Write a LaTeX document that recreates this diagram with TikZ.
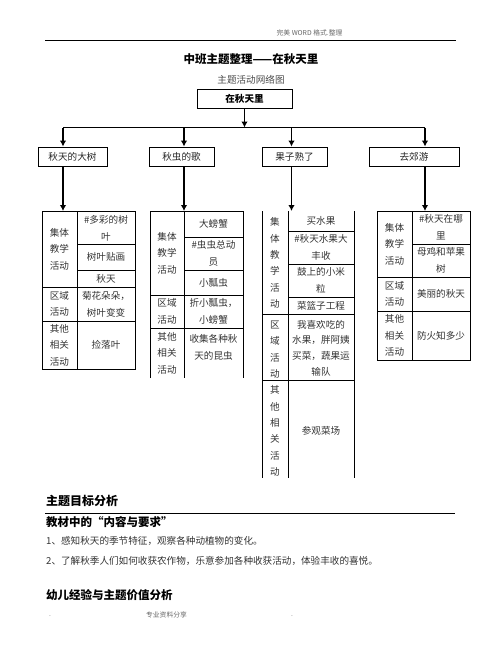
\documentclass[tikz,border=0pt]{standalone}
\usepackage{fontspec}
\setmainfont{Noto Sans CJK SC}
\usetikzlibrary{arrows.meta}

\begin{document}
\begin{tikzpicture}[x=1pt,y=-1pt,
  box/.style={draw,line width=0.9pt,inner sep=0pt,text=black!85,font=\fontsize{9.6}{12}\selectfont},
  arr/.style={line width=1.7pt,-{Latex[length=6pt,width=6.5pt]}},
  grid/.style={line width=0.9pt},
  cell/.style={align=center,inner sep=0pt,text=black!80,font=\fontsize{9.6}{17}\selectfont},
  tall/.style={cell,font=\fontsize{9.6}{16.4}\selectfont},
  head/.style={anchor=west,inner sep=0pt,font=\bfseries\fontsize{12}{14}\selectfont},
  para/.style={anchor=west,inner sep=0pt,text=black!80,font=\fontsize{9.6}{12}\selectfont},
  tiny/.style={inner sep=0pt,text=black!60,font=\fontsize{6.8}{8}\selectfont}]
\useasboundingbox (0,0) rectangle (502,649);

% page head
\node[tiny] (hdr) at (309.5,33) {完美 WORD 格式.整理};
\draw[line width=0.8pt] (45,40.5) -- (456,40.5);
\node[inner sep=0pt,font=\bfseries\fontsize{11.5}{14}\selectfont] (title) at (251,59) {中班主题整理——在秋天里};
\node[inner sep=0pt,text=black!70,font=\fontsize{9.6}{12}\selectfont] (sub) at (251,80) {主题活动网络图};

% network
\node[box,minimum width=95,minimum height=19,text=black] (root) at (244.5,98.5) {\bfseries 在秋天里};
\node[box,minimum width=69,minimum height=19] (b1) at (72.5,156.5) {秋天的大树};
\node[box,minimum width=65,minimum height=19] (b2) at (181.5,156.5) {秋虫的歌};
\node[box,minimum width=65,minimum height=19] (b3) at (294.5,156.5) {果子熟了};
\node[box,minimum width=90,minimum height=19] (b4) at (414,156.5) {去郊游};
\coordinate (j1) at (63,127.5);
\coordinate (j2) at (184,127.5);
\coordinate (j3) at (291.5,127.5);
\coordinate (j4) at (425,127.5);
\coordinate (t1) at (63,211);
\coordinate (t2) at (184,211);
\coordinate (t3) at (291.5,211);
\coordinate (t4) at (425,211);
\draw[line width=1.7pt] (j1) -- (j4);
\draw[arr] (root.south) -- (root.south |- j1);
\foreach \i in {1,...,4} {
  \draw[arr] (j\i) -- (j\i |- b\i.north);
  \draw[arr] (j\i |- b\i.south) -- (t\i);
}

% table 1
\draw[grid] (42,211) rectangle (135,369);
\draw[grid] (77,211) -- (77,369) (42,287) -- (135,287) (42,321) -- (135,321);
\draw[grid] (77,244) -- (135,244) (77,270) -- (135,270);
\node[tall] (a1) at (59.5,249) {集体\\教学\\活动};
\node[tall] (a2) at (59.5,304) {区域\\活动};
\node[tall] (a3) at (59.5,345) {其他\\相关\\活动};
\node[cell] (a4) at (106,228) {\#多彩的树\\叶};
\node[cell] (a5) at (106,257) {树叶贴画};
\node[cell] (a6) at (106,278.5) {秋天};
\node[cell] (a7) at (106,304) {菊花朵朵，\\树叶变变};
\node[cell] (a8) at (106,345) {捡落叶};

% table 2
\draw[grid] (150,378) -- (150,211) -- (243,211) -- (243,378);
\draw[grid] (184,211) -- (184,378) (150,295) -- (243,295) (150,328) -- (243,328);
\draw[grid] (184,237) -- (243,237) (184,270) -- (243,270);
\node[tall] (c1) at (167,253) {集体\\教学\\活动};
\node[tall] (c2) at (167,311.5) {区域\\活动};
\node[tall] (c3) at (167,353) {其他\\相关\\活动};
\node[cell] (c4) at (213.5,224) {大螃蟹};
\node[cell] (c5) at (213.5,253.5) {\#虫虫总动\\员};
\node[cell] (c6) at (213.5,282.5) {小瓢虫};
\node[cell] (c7) at (213.5,311.5) {折小瓢虫，\\小螃蟹};
\node[cell] (c8) at (213.5,347) {收集各种秋\\天的昆虫};

% table 3
\draw[grid] (262,211) -- (262,478) (288,211) -- (288,478) (354,211) -- (354,478);
\draw[grid] (262,314) -- (354,314) (262,380) -- (354,380);
\draw[grid] (288,231) -- (354,231) (288,264) -- (354,264) (288,297) -- (354,297);
\node[tall] (d1) at (275,263) {集\\体\\教\\学\\活\\动};
\node[tall] (d2) at (275,349.5) {区\\域\\活\\动};
\node[tall] (d3) at (275,431) {其\\他\\相\\关\\活\\动};
\node[cell] (d4) at (321,221) {买水果};
\node[cell] (d5) at (321,247.5) {\#秋天水果大\\丰收};
\node[cell] (d6) at (321,280.5) {鼓上的小米\\粒};
\node[cell] (d7) at (321,305.5) {菜篮子工程};
\node[cell,font=\fontsize{9.6}{15.6}\selectfont] (d8) at (321,348) {我喜欢吃的\\水果，胖阿姨\\买菜，蔬果运\\输队};
\node[cell] (d9) at (321,431) {参观菜场};

% table 4
\draw[grid] (377,211) rectangle (470,360);
\draw[grid] (412,211) -- (412,360) (377,277) -- (470,277) (377,311) -- (470,311);
\draw[grid] (412,244) -- (470,244);
\node[tall] (e1) at (394.5,244) {集体\\教学\\活动};
\node[tall] (e2) at (394.5,294) {区域\\活动};
\node[tall] (e3) at (394.5,335.5) {其他\\相关\\活动};
\node[cell] (e4) at (441,227.5) {\#秋天在哪\\里};
\node[cell] (e5) at (441,260.5) {母鸡和苹果\\树};
\node[cell] (e6) at (441,294) {美丽的秋天};
\node[cell] (e7) at (441,335.5) {防火知多少};

% text below
\node[head] (h1) at (46,501) {主题目标分析};
\draw[line width=0.8pt] (45,513) -- (455,513);
\node[head,font=\bfseries\fontsize{11.5}{14}\selectfont] (h2) at (46,522) {教材中的“内容与要求”};
\node[para] (p1) at (46,541) {1、感知秋天的季节特征，观察各种动植物的变化。};
\node[para] (p2) at (46,561) {2、了解秋季人们如何收获农作物，乐意参加各种收获活动，体验丰收的喜悦。};
\node[head,font=\bfseries\fontsize{11.5}{14}\selectfont] (h3) at (46,595) {幼儿经验与主题价值分析};

% page foot
\node[tiny] (f1) at (50,616) {.};
\node[tiny] (f2) at (166.5,615) {专业资料分享};
\node[tiny] (f3) at (292,616) {.};
\end{tikzpicture}
\end{document}
